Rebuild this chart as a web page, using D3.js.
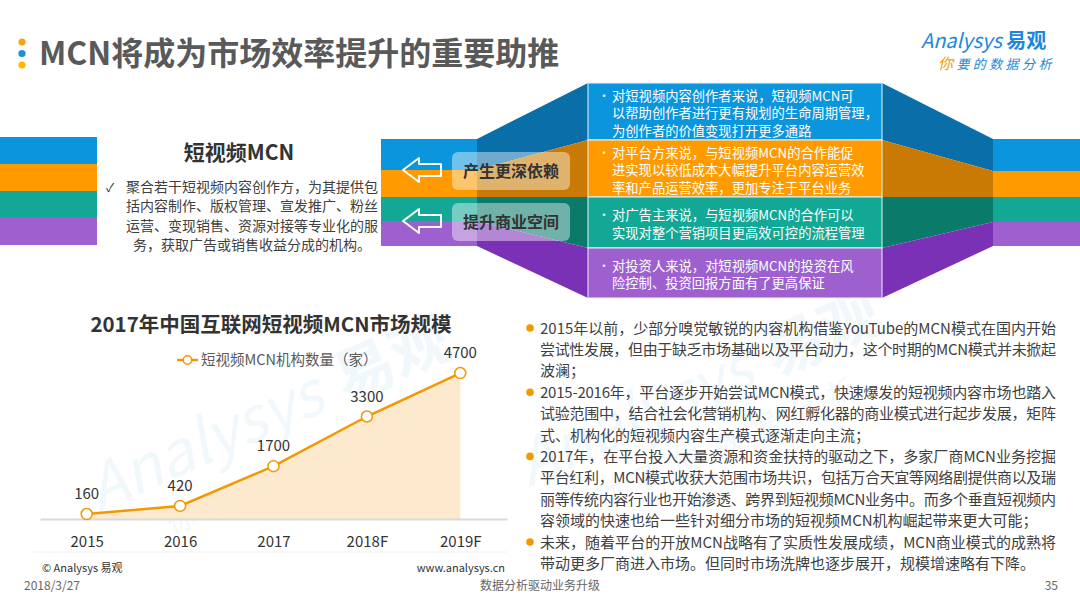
<!DOCTYPE html>
<html>
<head>
<meta charset="utf-8">
<script src="https://cdn.jsdelivr.net/npm/d3@7"></script>
<style>
  body { margin: 0; background: #fff; }
  svg { display: block; font-family: "Noto Sans CJK SC", "Microsoft YaHei", sans-serif; }
</style>
</head>
<body>
<div id="viz"></div>
<script>
// slide: MCN market size + stakeholder funnel

const pageTitle = 'MCN将成为市场效率提升的重要助推';
const chartTitle = '2017年中国互联网短视频MCN市场规模';
const seriesName = '短视频MCN机构数量（家）';
const years = ['2015', '2016', '2017', '2018F', '2019F'];
const mcnCounts = [160, 420, 1700, 3300, 4700];

const bandColors = ['#0b95dc', '#ff9b00', '#13a895', '#9e60cf'];
const bandDark = ['#0a6ea9', '#c97a05', '#0a7b6b', '#7a31b6'];

const mcnHeading = '短视频MCN';
const mcnDefinition = [
    '聚合若干短视频内容创作方，为其提供包',
    '括内容制作、版权管理、宣发推广、粉丝',
    '运营、变现销售、资源对接等专业化的服',
    '务，获取广告或销售收益分成的机构。'
];
const flowLabels = ['产生更深依赖', '提升商业空间'];
const stakeholderNotes = [
    ['对短视频内容创作者来说，短视频MCN可', '以帮助创作者进行更有规划的生命周期管理，', '为创作者的价值变现打开更多通路'],
    ['对平台方来说，与短视频MCN的合作能促', '进实现以较低成本大幅提升平台内容运营效', '率和产品运营效率，更加专注于平台业务'],
    ['对广告主来说，与短视频MCN的合作可以', '实现对整个营销项目更高效可控的流程管理'],
    ['对投资人来说，对短视频MCN的投资在风', '险控制、投资回报方面有了更高保证']
];
const trendNotes = [
    ['2015年以前，少部分嗅觉敏锐的内容机构借鉴YouTube的MCN模式在国内开始',
     '尝试性发展，但由于缺乏市场基础以及平台动力，这个时期的MCN模式并未掀起',
     '波澜；'],
    ['2015-2016年，平台逐步开始尝试MCN模式，快速爆发的短视频内容市场也踏入',
     '试验范围中，结合社会化营销机构、网红孵化器的商业模式进行起步发展，矩阵',
     '式、机构化的短视频内容生产模式逐渐走向主流；'],
    ['2017年，在平台投入大量资源和资金扶持的驱动之下，多家厂商MCN业务挖掘',
     '平台红利，MCN模式收获大范围市场共识，包括万合天宜等网络剧提供商以及瑞',
     '丽等传统内容行业也开始渗透、跨界到短视频MCN业务中。而多个垂直短视频内',
     '容领域的快速也给一些针对细分市场的短视频MCN机构崛起带来更大可能；'],
    ['未来，随着平台的开放MCN战略有了实质性发展成绩，MCN商业模式的成熟将',
     '带动更多厂商进入市场。但同时市场洗牌也逐步展开，规模增速略有下降。']
];

const W = 1080, H = 608;

const svg = d3.select('#viz').append('svg')
    .attr('width', W)
    .attr('height', H);

// watermark
function watermark(x, y) {
    const g = svg.append('g')
        .attr('transform', `translate(${x},${y}) rotate(-24)`)
        .attr('fill', '#1e88d8')
        .attr('opacity', 0.055);
    g.append('text').attr('x', -40).attr('y', 0)
        .attr('text-anchor', 'middle')
        .style('font-size', '62px').style('font-style', 'italic')
        .text('Analysys');
    g.append('text').attr('x', 165).attr('y', 0)
        .attr('text-anchor', 'middle')
        .style('font-size', '60px').style('font-weight', 700)
        .text('易观');
    g.append('text').attr('x', 40).attr('y', 50)
        .attr('text-anchor', 'middle')
        .style('font-size', '28px').style('letter-spacing', '14px')
        .text('你要的数据分析');
}
watermark(250, 445);
watermark(680, 420);

// header
const dotColors = ['#f7a21b', '#1a8fe0', '#fbb900'];
svg.selectAll('.hdot').data(dotColors).join('circle')
    .attr('cx', 22)
    .attr('cy', (d, i) => 42 + i * 11.5)
    .attr('r', 3.6)
    .attr('fill', d => d);

svg.append('text')
    .attr('x', 39).attr('y', 65)
    .attr('fill', '#595959')
    .style('font-size', '32px').style('font-weight', 700)
    .text(pageTitle);

const logo = svg.append('text').attr('x', 921).attr('y', 48).attr('fill', '#1e88d8');
logo.append('tspan').style('font-size', '20px').style('font-style', 'italic').text('Analysys ');
logo.append('tspan').style('font-size', '20px').style('font-weight', 700).text('易观');
const slogan = svg.append('text').attr('x', 938).attr('y', 69)
    .style('font-size', '13px').style('letter-spacing', '3.4px').style('font-style', 'italic');
slogan.append('tspan').attr('fill', '#f39800').style('font-size', '15px').text('你');
slogan.append('tspan').attr('fill', '#1e88d8').text('要的数据分析');

// colour bands (left, middle, box, right)
const edgesLeft = [137, 164, 191, 218, 245];
const edgesMid = [139, 170, 197, 221, 246];
const edgesBox = [83, 140, 197, 248, 298];
const edgesRight = [139, 171, 197, 222, 246];
const xL = [0, 97], xM = [381, 477], xB = [588, 882], xR = [993, 1080];

const poly = d3.line();
bandColors.forEach((c, i) => {
    svg.append('rect').attr('x', xL[0]).attr('y', edgesLeft[i])
        .attr('width', xL[1] - xL[0]).attr('height', edgesLeft[i + 1] - edgesLeft[i])
        .attr('fill', c);
    svg.append('rect').attr('x', xM[0]).attr('y', edgesMid[i])
        .attr('width', xM[1] - xM[0]).attr('height', edgesMid[i + 1] - edgesMid[i])
        .attr('fill', c);
    svg.append('rect').attr('x', xR[0]).attr('y', edgesRight[i])
        .attr('width', xR[1] - xR[0]).attr('height', edgesRight[i + 1] - edgesRight[i])
        .attr('fill', c);
    svg.append('path')
        .attr('d', poly([[xM[1], edgesMid[i]], [xB[0], edgesBox[i]], [xB[0], edgesBox[i + 1]], [xM[1], edgesMid[i + 1]]]) + 'Z')
        .attr('fill', bandDark[i]);
    svg.append('path')
        .attr('d', poly([[xB[1], edgesBox[i]], [xR[0], edgesRight[i]], [xR[0], edgesRight[i + 1]], [xB[1], edgesBox[i + 1]]]) + 'Z')
        .attr('fill', bandDark[i]);
});

// stakeholder box
stakeholderNotes.forEach((lines, i) => {
    const top = edgesBox[i], bot = edgesBox[i + 1];
    svg.append('rect')
        .attr('x', xB[0]).attr('y', top)
        .attr('width', xB[1] - xB[0]).attr('height', bot - top)
        .attr('fill', bandColors[i])
        .attr('stroke', '#e8f4fb').attr('stroke-width', 1);
    const lh = 17.5;
    const firstY = (top + bot) / 2 + 1.5 - (lines.length - 1) * lh / 2;
    svg.append('text')
        .attr('x', 598).attr('y', firstY + 5)
        .attr('fill', '#fff').attr('opacity', 0.85)
        .style('font-size', '12px')
        .text('•');
    svg.append('text')
        .attr('fill', '#fff')
        .style('font-size', '13.3px')
        .selectAll('tspan').data(lines).join('tspan')
        .attr('x', 612)
        .attr('y', (d, k) => firstY + k * lh + 5)
        .text(d => d);
});

// flow labels + arrows
const arrowShape = poly([[0, 0], [16, -12], [16, -6], [38, -6], [38, 6], [16, 6], [16, 12]]) + 'Z';
flowLabels.forEach((t, i) => {
    const cy = [170, 221][i];
    const by = [152, 203][i];
    svg.append('path')
        .attr('d', arrowShape)
        .attr('transform', `translate(403,${cy})`)
        .attr('fill', 'none')
        .attr('stroke', '#fff')
        .attr('stroke-width', 2)
        .attr('stroke-linejoin', 'round');
    svg.append('rect')
        .attr('x', 452).attr('y', by)
        .attr('width', 118).attr('height', 38)
        .attr('rx', 6)
        .attr('fill', '#fff').attr('opacity', 0.42);
    svg.append('text')
        .attr('x', 511).attr('y', by + 19)
        .attr('dy', '0.35em')
        .attr('text-anchor', 'middle')
        .attr('fill', '#333')
        .style('font-size', '16px').style('font-weight', 700)
        .text(t);
});

// MCN definition
svg.append('text')
    .attr('x', 239).attr('y', 160)
    .attr('text-anchor', 'middle')
    .attr('fill', '#333')
    .style('font-size', '21px').style('font-weight', 700)
    .text(mcnHeading);
svg.append('text')
    .attr('x', 106).attr('y', 192)
    .attr('fill', '#333')
    .style('font-size', '12px')
    .text('✓');
svg.append('text')
    .attr('fill', '#404040')
    .attr('text-anchor', 'middle')
    .style('font-size', '14px')
    .selectAll('tspan').data(mcnDefinition).join('tspan')
    .attr('x', 252)
    .attr('y', (d, i) => 192 + i * 19.3)
    .text(d => d);

// line chart
svg.append('text')
    .attr('x', 271).attr('y', 332)
    .attr('text-anchor', 'middle')
    .attr('fill', '#333')
    .style('font-size', '20.5px').style('font-weight', 700)
    .text(chartTitle);

const lineColor = '#f39800';
const legend = svg.append('g').attr('transform', 'translate(177,360)');
legend.append('line').attr('x1', 0).attr('x2', 21).attr('stroke', lineColor).attr('stroke-width', 2.5);
legend.append('circle').attr('cx', 10.5).attr('r', 4.2).attr('fill', '#fff').attr('stroke', lineColor).attr('stroke-width', 1.5);
legend.append('text').attr('x', 24).attr('dy', '0.35em')
    .attr('fill', '#595959')
    .style('font-size', '14.5px')
    .text(seriesName);

const xScale = d3.scalePoint()
    .domain(years)
    .range([40, 507])
    .padding(0.5);

const yScale = d3.scaleLinear()
    .domain([0, 5000])
    .range([519, 363.7]);

const data = years.map((y, i) => ({ year: y, value: mcnCounts[i] }));

svg.append('line')
    .attr('x1', 33).attr('x2', 507)
    .attr('y1', 552).attr('y2', 552)
    .attr('stroke', '#f0f0f0').attr('stroke-width', 1);

const area = d3.area()
    .x(d => xScale(d.year))
    .y0(yScale(0))
    .y1(d => yScale(d.value));

svg.append('path')
    .datum(data)
    .attr('d', area)
    .attr('fill', '#fde6c6')
    .attr('opacity', 0.85);

const xAxis = svg.append('g')
    .attr('transform', `translate(0,${yScale(0)})`)
    .call(d3.axisBottom(xScale).tickSize(0).tickPadding(17));
xAxis.select('.domain').attr('stroke', '#d9d9d9').attr('stroke-width', 2);
xAxis.selectAll('text')
    .attr('fill', '#333')
    .style('font-size', '15px')
    .style('font-family', '"Noto Sans CJK SC", sans-serif');

const line = d3.line()
    .x(d => xScale(d.year))
    .y(d => yScale(d.value));

svg.append('path')
    .datum(data)
    .attr('d', line)
    .attr('fill', 'none')
    .attr('stroke', lineColor)
    .attr('stroke-width', 2.5);

svg.selectAll('.pt').data(data).join('circle')
    .attr('cx', d => xScale(d.year))
    .attr('cy', d => yScale(d.value))
    .attr('r', 5.5)
    .attr('fill', '#fff')
    .attr('stroke', lineColor)
    .attr('stroke-width', 1.5);

svg.selectAll('.val').data(data).join('text')
    .attr('x', d => xScale(d.year))
    .attr('y', d => yScale(d.value) - 15)
    .attr('text-anchor', 'middle')
    .attr('fill', '#333')
    .style('font-size', '15px')
    .text(d => d.value);

// trend notes on the right
const noteFont = 15, noteLh = 21.4;
let row = 0;
trendNotes.forEach(lines => {
    const cy = 328 + row * noteLh;
    svg.append('circle').attr('cx', 530).attr('cy', cy).attr('r', 3.8).attr('fill', '#f39800');
    lines.forEach((t, k) => {
        const txt = svg.append('text')
            .attr('x', 540)
            .attr('y', 328 + (row + k) * noteLh + 5.5)
            .attr('fill', '#404040')
            .style('font-size', noteFont + 'px')
            .text(t);
        if (k < lines.length - 1) txt.attr('textLength', 516).attr('lengthAdjust', 'spacing');
    });
    row += lines.length;
});

// footer
svg.append('text').attr('x', 42).attr('y', 572)
    .attr('fill', '#333').style('font-size', '11px')
    .text('© Analysys 易观');
svg.append('text').attr('x', 505).attr('y', 572)
    .attr('text-anchor', 'end')
    .attr('fill', '#333').style('font-size', '11px')
    .text('www.analysys.cn');
svg.append('text').attr('x', 24).attr('y', 590)
    .attr('fill', '#666').style('font-size', '12px')
    .text('2018/3/27');
svg.append('text').attr('x', 540).attr('y', 590)
    .attr('text-anchor', 'middle')
    .attr('fill', '#666').style('font-size', '12px')
    .text('数据分析驱动业务升级');
svg.append('text').attr('x', 1058).attr('y', 590)
    .attr('text-anchor', 'end')
    .attr('fill', '#666').style('font-size', '12px')
    .text('35');
</script>
</body>
</html>
